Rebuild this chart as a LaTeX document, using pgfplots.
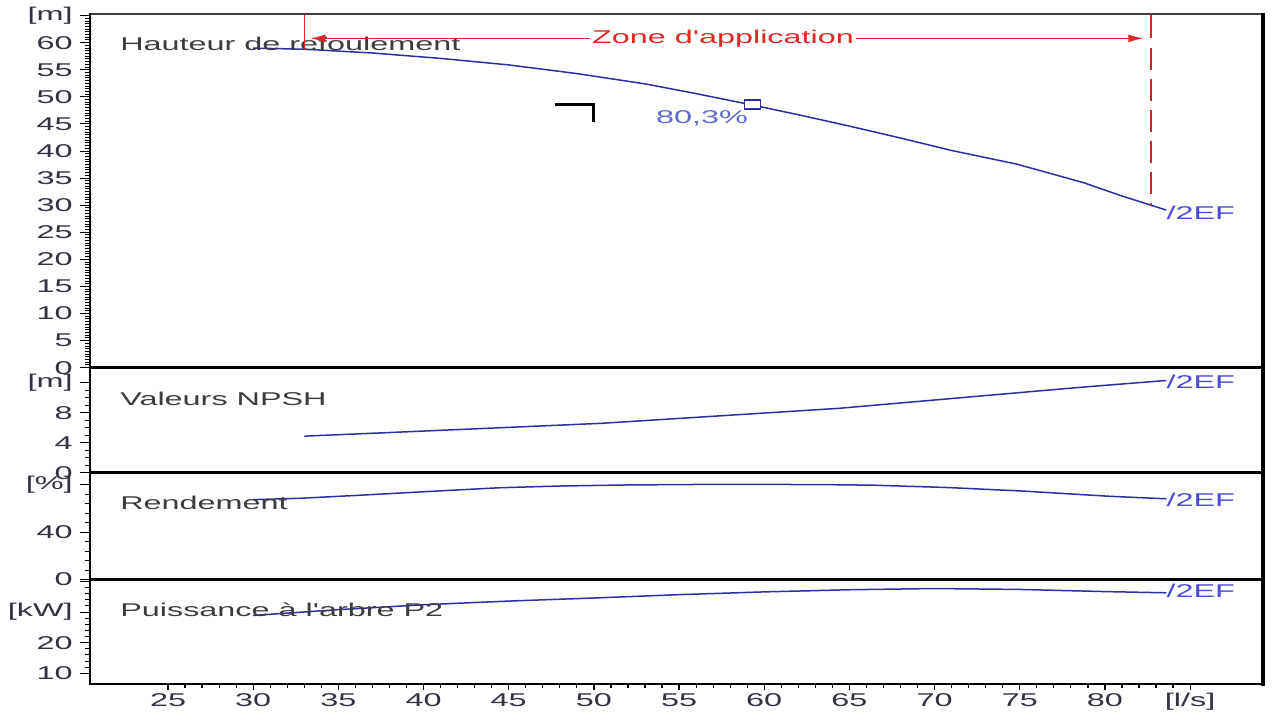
\documentclass[border=0pt]{standalone}
\usepackage{fontspec}
\setmainfont{Liberation Sans}
\usepackage{pgfplots}
\pgfplotsset{compat=1.18}
\usetikzlibrary{arrows.meta}
\definecolor{curve}{RGB}{45,45,165}
\definecolor{lbl}{RGB}{75,75,215}
\definecolor{pct}{RGB}{95,105,210}
\definecolor{zone}{RGB}{225,40,40}
\definecolor{dashc}{RGB}{195,40,40}
\definecolor{txt}{RGB}{60,60,60}
\definecolor{tck}{RGB}{50,50,65}
\newcommand{\fnt}{\fontsize{18.5}{22}\selectfont}
\pgfplotsset{
  panel/.style={
    scale only axis, width=1173pt, xmin=20.42, xmax=89.28,
    anchor=south west,
    axis line style={draw=none},
    xtick=\empty,
    ytick pos=left, tick align=outside,
    major tick length=10pt, minor tick length=5.5pt,
    tick style={black, line width=1pt},
    yticklabel style={font=\fnt, text=tck, xscale=1.75, inner xsep=4pt},
    clip=false,
    /pgf/number format/assume math mode=true,
  },
  crv/.style={curve, line width=1.5pt},
}
\tikzset{
  ttl/.style={anchor=west, inner sep=0pt, xscale=1.75, text=txt, font=\fnt},
  eflbl/.style={anchor=west, inner sep=0pt, xscale=1.75, text=lbl, font=\fnt},
}
\begin{document}
\begin{tikzpicture}
\path[use as bounding box] (0,0) rectangle (1273pt,720pt);

% ---------------- Hauteur de refoulement
\begin{axis}[panel, at={(90pt,352.3pt)}, height=353.7pt, ymin=0, ymax=65.3,
  ytick={0,5,...,65}, yticklabels={0,5,10,15,20,25,30,35,40,45,50,55,60,{[m]}},
  minor y tick num=9]
\addplot[crv] coordinates {
(30,59.0) (33,58.8) (37,58.1) (41,57.1) (45,55.9) (49,54.3) (53,52.4) (56,50.6)
(59.3,48.5) (62,46.7) (65,44.6) (68,42.4) (71,40.1) (74.8,37.6) (78.7,34.2) (81,31.7) (83.6,29.1)};
\addplot[only marks, mark=square*, mark size=4.5pt,
  mark options={xscale=1.8, draw=curve, fill=white, line width=1.2pt}] coordinates {(59.3,48.6)};
\node[ttl] at (axis cs:22.18,59.76) {Hauteur de refoulement};
\node[eflbl] at (axis cs:83.6,28.65) {/2EF};
\node[text=pct, xscale=1.75, inner sep=0pt, font=\fnt] at (axis cs:56.35,46.0) {80,3\%};
\draw[black, line width=3pt] (axis cs:47.72,48.68) -- (axis cs:49.95,48.68) -- (axis cs:49.95,45.36);
% zone d'application
\draw[zone, line width=1.5pt] (axis cs:33,65.3) -- (axis cs:33,58.6);
\draw[zone, line width=1.5pt] (axis cs:82.7,65.3) -- (axis cs:82.7,60.8);
\draw[dashc, line width=2pt, dash pattern=on 22pt off 9pt] (axis cs:82.7,59.0) -- (axis cs:82.7,30.0);
\draw[zone, line width=1.3pt, -{Latex[length=15pt,width=8pt]}] (axis cs:57.58,60.8) -- (axis cs:33.35,60.8);
\draw[zone, line width=1.3pt, -{Latex[length=15pt,width=8pt]}] (axis cs:57.58,60.8) -- (axis cs:82.25,60.8);
\node[fill=white, text=zone, inner sep=1pt, xscale=1.75, font=\fnt] at (axis cs:57.58,60.8) {Zone d\textquotesingle application};
\end{axis}

% ---------------- NPSH
\begin{axis}[panel, at={(90pt,247pt)}, height=105.3pt, ymin=0, ymax=14,
  ytick={0,4,8,12}, yticklabels={0,4,8,{[m]}}, minor y tick num=3]
\addplot[crv] coordinates {
(33,4.9) (37.7,5.35) (43.3,5.9) (50.4,6.6) (57.4,7.6) (64.4,8.6) (71.5,10.0) (78.6,11.4) (83.6,12.3)};
\node[ttl] at (axis cs:22.18,9.88) {Valeurs NPSH};
\node[eflbl] at (axis cs:83.6,12.07) {/2EF};
\end{axis}

% ---------------- Rendement
\begin{axis}[panel, at={(90pt,140.5pt)}, height=106.5pt, ymin=0, ymax=90,
  ytick={0,40,80}, yticklabels={0,40,{[\%]}}, minor y tick num=4]
\addplot[crv] coordinates {
(30,67.5) (32.7,68.6) (36,71) (39.8,74) (44.4,77.5) (48,79) (52,79.9) (56,80.3) (60,80.4)
(64,80.1) (66.4,79.7) (70.8,77.7) (75.1,74.8) (80.3,70.3) (83.6,68.2)};
\node[ttl] at (axis cs:22.18,65.1) {Rendement};
\node[eflbl] at (axis cs:83.6,67.2) {/2EF};
\end{axis}

% ---------------- Puissance
\begin{axis}[panel, at={(90pt,36pt)}, height=104.5pt, ymin=6.5, ymax=40.65,
  ytick={10,20,30,40}, yticklabels={10,20,{[kW]},{}}, minor y tick num=4]
\addplot[crv] coordinates {
(30,28.9) (35,30.8) (40,32.4) (45,33.6) (50,34.6) (55,35.7) (60,36.6) (65,37.3)
(70,37.7) (75,37.4) (80,36.7) (83.6,36.3)};
\node[ttl] at (axis cs:22.18,30.7) {Puissance à l\textquotesingle arbre P2};
\node[eflbl] at (axis cs:83.6,36.9) {/2EF};
\end{axis}

% ---------------- x axis ticks
\begin{axis}[scale only axis, width=1173pt, height=104.5pt, at={(90pt,36pt)}, anchor=south west,
  xmin=20.42, xmax=89.28, ymin=0, ymax=1, axis line style={draw=none}, ytick=\empty,
  xtick={25,30,...,85}, xticklabels={25,30,35,40,45,50,55,60,65,70,75,80,{[l/s]}},
  minor x tick num=4, xtick pos=left, tick align=outside,
  major tick length=6pt, minor tick length=3.5pt,
  tick style={black, line width=1.2pt},
  xticklabel style={font=\fnt, text=tck, xscale=1.75},
  /pgf/number format/assume math mode=true]
\end{axis}

% ---------------- frame
\draw[black!75, line width=1.2pt] (90pt,706pt) -- (1263pt,706pt);
\draw[black, line width=2pt] (90pt,35pt) -- (90pt,707pt);
\draw[black, line width=2.5pt] (89pt,36pt) -- (1263pt,36pt);
\draw[black, line width=4pt] (1263pt,34pt) -- (1263pt,707pt);
\draw[black, line width=3pt] (90pt,352.3pt) -- (1263pt,352.3pt);
\draw[black, line width=3pt] (90pt,247pt) -- (1263pt,247pt);
\draw[black, line width=3pt] (90pt,140.5pt) -- (1263pt,140.5pt);
\end{tikzpicture}
\end{document}
